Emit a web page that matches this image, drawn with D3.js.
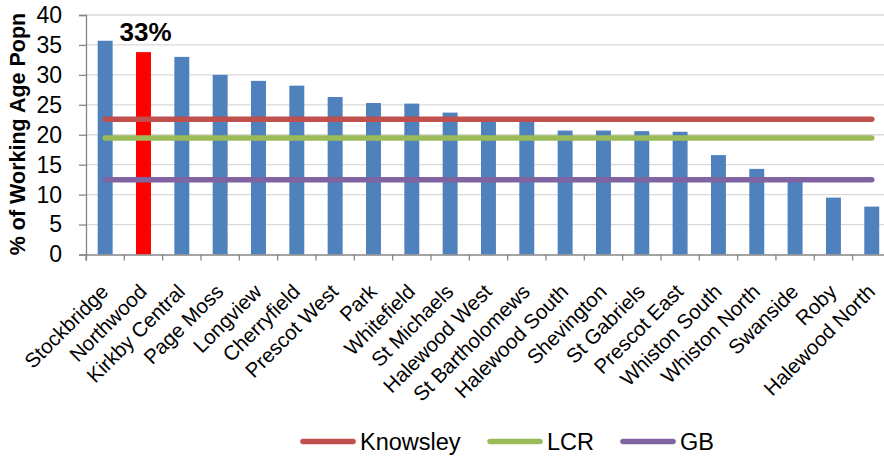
<!DOCTYPE html>
<html><head><meta charset="utf-8">
<script src="https://cdn.jsdelivr.net/npm/d3@7"></script>
<style>html,body{margin:0;padding:0;background:#fff;}svg{display:block;font-family:"Liberation Sans",Arial,sans-serif;}</style>
</head><body>
<svg id="c" width="884" height="458"></svg>
<script>
const wards = ["Stockbridge","Northwood","Kirkby Central","Page Moss","Longview","Cherryfield","Prescot West","Park","Whitefield","St Michaels","Halewood West","St Bartholomews","Halewood South","Shevington","St Gabriels","Prescot East","Whiston South","Whiston North","Swanside","Roby","Halewood North"];
const values = [35.7,33.8,33.0,30.0,29.0,28.2,26.3,25.3,25.2,23.7,22.4,22.4,20.7,20.7,20.6,20.5,16.6,14.3,12.3,9.5,8.0];
const highlight = "Northwood";
const highlightLabel = "33%";
const refNames = ["Knowsley","LCR","GB"];
const refValues = [22.6,19.45,12.5];
const refColors = ["#C0504D","#9BBB59","#8064A2"];
const yTicks = [0,5,10,15,20,25,30,35,40];

const svg = d3.select("#c");
const mLeft = 86, mTop = 15, mBottom = 254.5, step = 38.33;
const mRight = mLeft + step*wards.length;
const x = d3.scaleBand().domain(wards).range([mLeft,mRight]).paddingInner(0.61).paddingOuter(0.305);
const xt = d3.scaleBand().domain(wards).range([mLeft,mRight]);
const y = d3.scaleLinear().domain([0,40]).range([mBottom,mTop]);

// gridlines
svg.append("g").selectAll("line").data(yTicks.filter(d=>d>0)).join("line")
  .attr("x1",mLeft).attr("x2",884).attr("y1",d=>y(d)).attr("y2",d=>y(d))
  .attr("stroke","#D9D9D9").attr("stroke-width",1.3);

// bars
svg.append("g").selectAll("rect").data(wards).join("rect")
  .attr("x",d=>x(d)).attr("width",x.bandwidth())
  .attr("y",(d,i)=>y(values[i])).attr("height",(d,i)=>mBottom-y(values[i]))
  .attr("fill",d=>d===highlight?"#FF0000":"#4F81BD");

// reference lines
const line = d3.line().x(d=>d[0]).y(d=>d[1]);
refValues.forEach((v,k)=>{
  svg.append("path")
    .attr("d",line([[xt(wards[0])+xt.bandwidth()/2,y(v)],[xt(wards[wards.length-1])+xt.bandwidth()/2,y(v)]]))
    .attr("stroke",refColors[k]).attr("stroke-width",5.5).attr("stroke-linecap","round").attr("fill","none");
});

// y axis
const ya = svg.append("g").attr("transform",`translate(${mLeft},0)`)
  .call(d3.axisLeft(y).tickValues(yTicks).tickSize(7).tickPadding(17));
ya.select(".domain").attr("stroke","#868686").attr("stroke-width",1.3);
ya.selectAll(".tick line").attr("stroke","#868686").attr("stroke-width",1.3);
ya.selectAll(".tick text").attr("font-size",23).attr("fill","#000").attr("font-family","Liberation Sans, Arial, sans-serif");

// x axis
const xa = svg.append("g").attr("transform",`translate(0,${mBottom})`)
  .call(d3.axisBottom(xt).tickSize(6).tickFormat(""));
xa.select(".domain").attr("stroke","#868686").attr("stroke-width",1.3);
xa.selectAll(".tick line").attr("stroke","#868686").attr("stroke-width",1.3)
  .attr("transform",`translate(${-xt.bandwidth()/2},0)`);

// x labels
svg.append("g").selectAll("text").data(wards).join("text")
  .attr("transform",d=>`translate(${xt(d)+xt.bandwidth()/2+4.5},${mBottom+38.5}) rotate(-45)`)
  .attr("text-anchor","end").attr("font-size",20.5).attr("fill","#000").text(d=>d);

// highlight label
svg.append("text").attr("x",x(highlight)+x.bandwidth()/2+2).attr("y",40.5)
  .attr("text-anchor","middle").attr("font-weight","bold").attr("font-size",26).text(highlightLabel);

// y title
svg.append("text").attr("transform",`translate(25,134) rotate(-90)`)
  .attr("text-anchor","middle").attr("font-weight","bold").attr("font-size",21.5).text("% of Working Age Popn");

// legend
const legX = [301,488,621];
refNames.forEach((n,k)=>{
  svg.append("line").attr("x1",legX[k]+2).attr("x2",legX[k]+52).attr("y1",441.5).attr("y2",441.5)
    .attr("stroke",refColors[k]).attr("stroke-width",5.5).attr("stroke-linecap","round");
  svg.append("text").attr("x",legX[k]+59).attr("y",450).attr("font-size",23.5).text(n);
});
</script>
</body></html>
